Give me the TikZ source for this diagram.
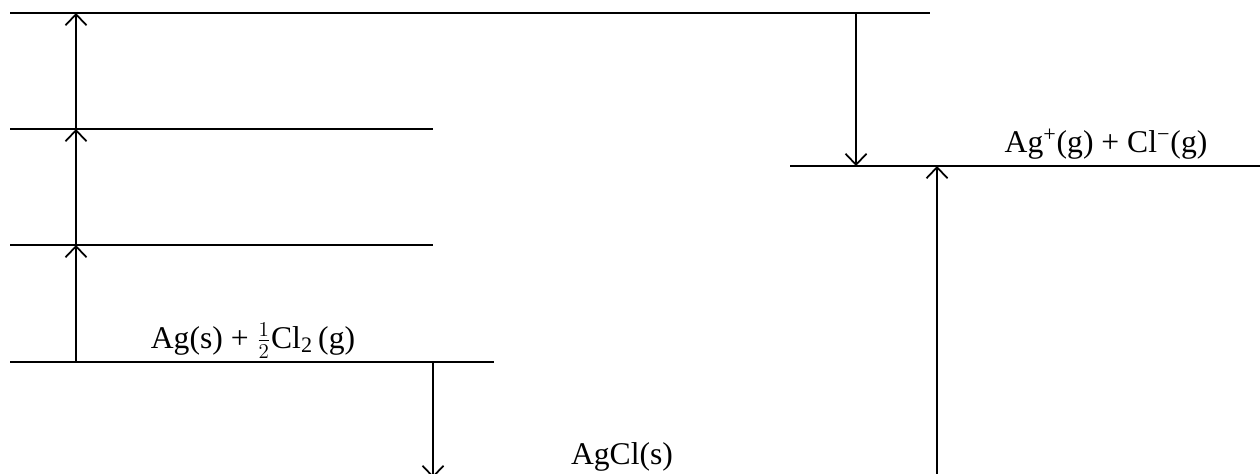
\documentclass[tikz,border=0pt]{standalone}
\usepackage{fontspec}
\setmainfont{Liberation Serif}
\usetikzlibrary{arrows.meta}

\begin{document}
\begin{tikzpicture}[x=0.02cm,y=-0.02cm,
    level/.style={line width=1.1pt},
    change/.style={line width=1pt,-{Straight Barb[length=2.2mm,width=4.2mm,line width=1pt]}},
    species/.style={font=\fontsize{18}{21}\selectfont,anchor=base,inner sep=0pt}]
    \useasboundingbox (0,0) rectangle (1260,473);

    % energy levels
    \draw[level] (10,13) -- (930,13);
    \draw[level] (10,129) -- (433,129);
    \draw[level] (10,245) -- (433,245);
    \draw[level] (10,362) -- (494,362);
    \draw[level] (790,166) -- (1260,166);

    % points on the levels
    \coordinate (elem) at (76,362);
    \coordinate (atom) at (76,245);
    \coordinate (cl) at (76,129);
    \coordinate (ionag) at (76,13);
    \coordinate (ionstart) at (856,13);
    \coordinate (ions) at (856,166);
    \coordinate (ionsup) at (937,166);
    \coordinate (form) at (433,362);
    \coordinate (solid) at (433,478);
    \coordinate (lattice) at (937,500);

    \node[species] (reactants) at (253,348) {Ag(s) + $\frac{1}{2}$Cl\textsubscript{2}\,(g)};
    \node[species] (gasions) at (1106,153) {Ag\textsuperscript{+}(g) + Cl\textsuperscript{−}(g)};
    \node[species] (product) at (622,464) {AgCl(s)};

    \path[change] (elem) edge (atom)
                  (atom) edge (cl)
                  (cl) edge (ionag)
                  (ionstart) edge (ions)
                  (form) edge (solid)
                  (lattice) edge (ionsup);

\end{tikzpicture}
\end{document}
